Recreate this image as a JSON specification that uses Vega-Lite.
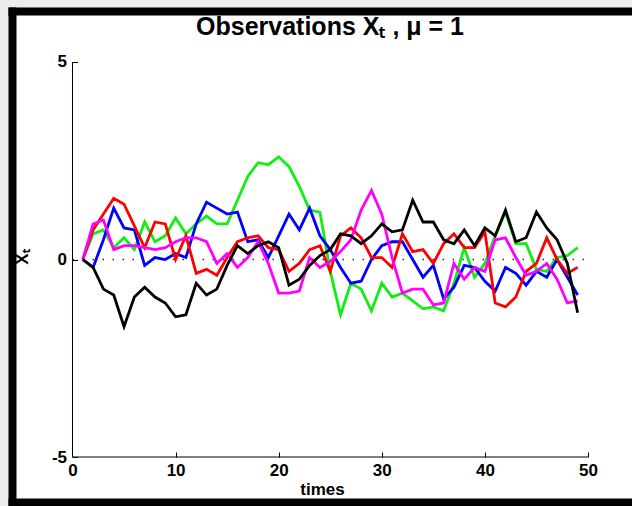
{
  "$schema": "https://vega.github.io/schema/vega-lite/v6.json",
  "width": 620,
  "height": 491,
  "autosize": {"type": "none"},
  "padding": {"left": 12, "top": 11, "right": 0, "bottom": 4},
  "background": "#ececec",
  "title": {
    "text": "Observations Xₜ , μ = 1",
    "anchor": "middle",
    "baseline": "alphabetic",
    "offset": -49,
    "dx": 8,
    "font": "Liberation Sans",
    "fontSize": 25,
    "fontWeight": "bold",
    "color": "black"
  },
  "config": {
    "view": {"stroke": null, "fill": "white"},
    "axis": {
      "grid": false,
      "labelFont": "Liberation Sans",
      "titleFont": "Liberation Sans",
      "labelColor": "black",
      "titleColor": "black",
      "labelFontWeight": "bold",
      "titleFontWeight": "bold",
      "labelFontSize": 17,
      "titleFontSize": 17,
      "tickColor": "black",
      "domainColor": "black"
    }
  },
  "resolve": {"axis": {"x": "independent", "y": "independent"}},
  "layer": [
    {
      "data": {"values": [{}]},
      "mark": {"type": "rule", "color": "black", "strokeWidth": 1},
      "encoding": {
        "x": {
          "datum": 0, "type": "quantitative",
          "scale": {"domain": [-5.868, 54.27], "nice": false, "zero": false},
          "axis": {"orient": "top", "domain": true, "domainWidth": 8, "domainCap": "square", "ticks": false, "labels": false, "title": null, "offset": 0}
        },
        "y": {
          "datum": -5, "type": "quantitative",
          "scale": {"domain": [-6.139, 6.291], "nice": false, "zero": false},
          "axis": {"orient": "left", "domain": true, "domainWidth": 8, "domainCap": "square", "ticks": false, "labels": false, "title": null, "offset": 0}
        },
        "y2": {"datum": 5}
      }
    },
    {
      "data": {"values": [{}]},
      "mark": {"type": "rule", "color": "black", "strokeWidth": 1},
      "encoding": {
        "x": {
          "datum": 0, "type": "quantitative",
          "scale": {"domain": [-5.868, 54.27], "nice": false, "zero": false},
          "axis": {"orient": "bottom", "domain": true, "domainWidth": 8, "domainCap": "square", "ticks": false, "labels": false, "title": null, "offset": 0}
        },
        "x2": {"datum": 50},
        "y": {"datum": -5, "type": "quantitative", "axis": null}
      }
    },
    {
      "data": {"values": [{}]},
      "mark": {"type": "rule", "color": "#2a2a55", "strokeWidth": 1.3, "strokeDash": [1.5, 8.5]},
      "encoding": {
        "x": {"datum": 0, "type": "quantitative", "axis": null},
        "x2": {"datum": 50},
        "y": {"datum": 0, "type": "quantitative", "axis": null}
      }
    },
    {
      "data": {"values": [
        {"t":1,"black":0,"red":0,"green":0,"blue":0,"magenta":0},
        {"t":2,"black":-0.2,"red":0.75,"green":0.65,"blue":-0.2,"magenta":0.9},
        {"t":3,"black":-0.75,"red":1.15,"green":0.75,"blue":0.5,"magenta":1.0},
        {"t":4,"black":-0.9,"red":1.55,"green":0.3,"blue":1.3,"magenta":0.25},
        {"t":5,"black":-1.7,"red":1.4,"green":0.55,"blue":0.8,"magenta":0.35},
        {"t":6,"black":-0.95,"red":0.85,"green":0.25,"blue":0.75,"magenta":0.35},
        {"t":7,"black":-0.7,"red":0.3,"green":0.95,"blue":-0.15,"magenta":0.3},
        {"t":8,"black":-0.95,"red":0.95,"green":0.45,"blue":0.05,"magenta":0.25},
        {"t":9,"black":-1.1,"red":0.9,"green":0.6,"blue":0.0,"magenta":0.3},
        {"t":10,"black":-1.45,"red":0.0,"green":1.05,"blue":0.15,"magenta":0.45},
        {"t":11,"black":-1.4,"red":0.6,"green":0.65,"blue":0.05,"magenta":0.55},
        {"t":12,"black":-0.6,"red":-0.35,"green":0.9,"blue":0.9,"magenta":0.55},
        {"t":13,"black":-0.9,"red":-0.25,"green":1.1,"blue":1.45,"magenta":0.45},
        {"t":14,"black":-0.75,"red":-0.4,"green":0.9,"blue":1.3,"magenta":-0.1},
        {"t":15,"black":-0.15,"red":0.05,"green":0.9,"blue":1.15,"magenta":0.15},
        {"t":16,"black":0.35,"red":0.45,"green":1.5,"blue":1.2,"magenta":-0.2},
        {"t":17,"black":0.15,"red":0.55,"green":2.1,"blue":0.45,"magenta":0.05},
        {"t":18,"black":0.35,"red":0.6,"green":2.45,"blue":0.5,"magenta":0.45},
        {"t":19,"black":0.45,"red":0.3,"green":2.4,"blue":0.05,"magenta":-0.1},
        {"t":20,"black":0.3,"red":0.25,"green":2.6,"blue":0.6,"magenta":-0.85},
        {"t":21,"black":-0.65,"red":-0.3,"green":2.35,"blue":1.15,"magenta":-0.85},
        {"t":22,"black":-0.5,"red":-0.1,"green":1.85,"blue":0.75,"magenta":-0.8},
        {"t":23,"black":-0.15,"red":0.25,"green":1.25,"blue":1.3,"magenta":0.05},
        {"t":24,"black":0.1,"red":0.35,"green":1.2,"blue":0.6,"magenta":-0.2},
        {"t":25,"black":0.25,"red":-0.3,"green":-0.3,"blue":0.25,"magenta":-0.05},
        {"t":26,"black":0.65,"red":0.6,"green":-1.4,"blue":-0.2,"magenta":0.2},
        {"t":27,"black":0.6,"red":0.8,"green":-0.6,"blue":-0.6,"magenta":0.5},
        {"t":28,"black":0.4,"red":0.55,"green":-0.75,"blue":-0.55,"magenta":1.25},
        {"t":29,"black":0.6,"red":0.05,"green":-1.3,"blue":0.0,"magenta":1.75},
        {"t":30,"black":0.9,"red":0.05,"green":-0.6,"blue":0.35,"magenta":1.15},
        {"t":31,"black":0.7,"red":-0.2,"green":-0.95,"blue":0.45,"magenta":0.05},
        {"t":32,"black":0.75,"red":0.65,"green":-0.85,"blue":0.45,"magenta":-0.85},
        {"t":33,"black":1.5,"red":0.2,"green":-1.05,"blue":0.0,"magenta":-0.75},
        {"t":34,"black":0.95,"red":0.25,"green":-1.25,"blue":-0.45,"magenta":-0.75},
        {"t":35,"black":0.95,"red":-0.1,"green":-1.2,"blue":-0.15,"magenta":-1.15},
        {"t":36,"black":0.5,"red":0.4,"green":-1.3,"blue":-1.0,"magenta":-1.1},
        {"t":37,"black":0.4,"red":0.65,"green":-0.6,"blue":-0.7,"magenta":-0.1},
        {"t":38,"black":0.75,"red":0.3,"green":0.3,"blue":-0.15,"magenta":-0.5},
        {"t":39,"black":0.35,"red":0.3,"green":-0.45,"blue":-0.2,"magenta":-0.2},
        {"t":40,"black":0.8,"red":0.7,"green":-0.1,"blue":-0.55,"magenta":-0.3},
        {"t":41,"black":0.6,"red":-1.1,"green":0.6,"blue":-0.8,"magenta":0.5},
        {"t":42,"black":1.25,"red":-1.2,"green":1.2,"blue":-0.2,"magenta":0.55},
        {"t":43,"black":0.45,"red":-0.95,"green":0.4,"blue":-0.35,"magenta":0.05},
        {"t":44,"black":0.55,"red":-0.3,"green":0.4,"blue":-0.65,"magenta":-0.4},
        {"t":45,"black":1.2,"red":-0.1,"green":-0.25,"blue":-0.3,"magenta":-0.3},
        {"t":46,"black":0.8,"red":0.55,"green":-0.3,"blue":-0.45,"magenta":-0.1},
        {"t":47,"black":0.5,"red":0.0,"green":0.05,"blue":0.0,"magenta":-0.5},
        {"t":48,"black":-0.1,"red":-0.35,"green":0.1,"blue":-0.45,"magenta":-1.1},
        {"t":49,"black":-1.35,"red":-0.2,"green":0.3,"blue":-0.9,"magenta":-1.05}
      ]},
      "transform": [{"fold": ["green", "blue", "red", "magenta", "black"], "as": ["series", "v"]}],
      "mark": {"type": "line", "strokeWidth": 2.8},
      "encoding": {
        "x": {
          "field": "t", "type": "quantitative",
          "scale": {"domain": [-5.868, 54.27], "nice": false, "zero": false},
          "axis": {"orient": "bottom", "offset": -45, "values": [0, 10, 20, 30, 40, 50], "domain": false, "ticks": true, "tickSize": -5, "tickWidth": 1, "labelPadding": 10, "labelFlush": false, "labelOverlap": false, "title": "times", "titlePadding": 3}
        },
        "y": {
          "field": "v", "type": "quantitative",
          "scale": {"domain": [-6.139, 6.291], "nice": false, "zero": false},
          "axis": {"orient": "left", "offset": -60.5, "values": [-5, 0, 5], "domain": false, "ticks": true, "tickSize": -5, "tickWidth": 1, "labelPadding": 11, "labelOverlap": false, "labelExpr": "'' + datum.value", "title": "Xₜ", "titlePadding": 11, "minExtent": 30}
        },
        "color": {
          "field": "series", "type": "nominal",
          "scale": {"domain": ["green", "blue", "red", "magenta", "black"], "range": ["#11ee11", "#0000ff", "#ff0000", "#ff00ff", "#000000"]},
          "legend": null
        }
      }
    }
  ]
}
